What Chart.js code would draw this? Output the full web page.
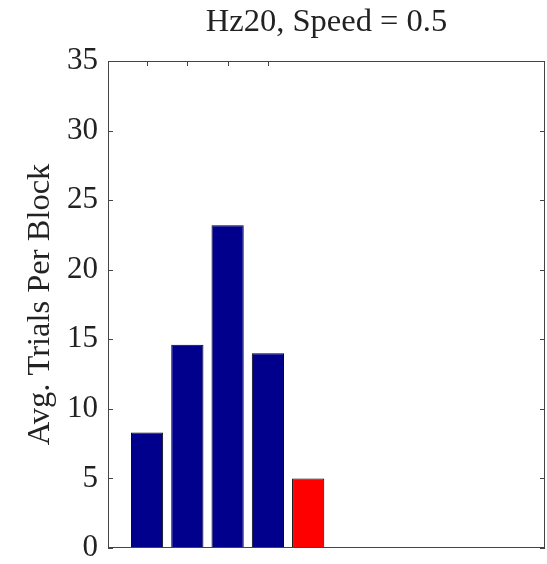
<!DOCTYPE html>
<html><head><meta charset="utf-8">
<script src="https://cdn.jsdelivr.net/npm/chart.js@4"></script>
<style>html,body{margin:0;padding:0;background:#fff}#wrap{width:547px;height:564px}
.fl{font-family:'Liberation Serif';position:absolute;left:-9999px;top:0;font-size:30px}</style>
</head><body><span class="fl">Hz20, Speed Avg. 0123456789</span><div id="wrap"><canvas id="c" width="547" height="564"></canvas></div>
<script>
const titleText = "Hz20, Speed = 0.5";
const yLabel = "Avg. Trials Per Block";
const positions = [1, 2, 3, 4, 5];
const values = [8.3, 14.6, 23.2, 14.0, 5.0];
const barColors = ["#00008C", "#00008C", "#00008C", "#00008C", "#FF0000"];
const yTicks = [0, 5, 10, 15, 20, 25, 30, 35];
const xTicks = [1, 2, 3, 4];
const xMin = 0.03, xMax = 10.88;
const serif = "'Liberation Serif', 'Times New Roman', Times, 'DejaVu Serif', serif";

const boxPlugin = {
  id: 'box',
  beforeDatasetsDraw(chart) {
    const {ctx, chartArea: a, scales: {x, y}} = chart;
    ctx.save();
    ctx.strokeStyle = '#444';
    ctx.lineWidth = 1;
    ctx.beginPath();
    yTicks.forEach(v => {
      const py = Math.round(y.getPixelForValue(v)) + 0.5;
      ctx.moveTo(a.left, py); ctx.lineTo(a.left + 5, py);
      ctx.moveTo(a.right, py); ctx.lineTo(a.right - 5, py);
    });
    xTicks.forEach(v => {
      const px = Math.round(x.getPixelForValue(v)) + 0.5;
      ctx.moveTo(px, a.top); ctx.lineTo(px, a.top + 5);
      ctx.moveTo(px, a.bottom); ctx.lineTo(px, a.bottom - 5);
    });
    ctx.stroke();
    ctx.restore();
  },
  afterDraw(chart) {
    const {ctx, chartArea: a} = chart;
    ctx.save();
    ctx.strokeStyle = '#444';
    ctx.lineWidth = 1;
    ctx.strokeRect(Math.round(a.left) + 0.5, Math.round(a.top) + 0.5,
      Math.round(a.right - a.left) - 1, Math.round(a.bottom - a.top) - 1);
    ctx.restore();
  }
};

function build() {
  new Chart(document.getElementById('c'), {
    type: 'bar',
    data: {
      datasets: [{
        data: positions.map((p, i) => ({x: p, y: values[i]})),
        backgroundColor: barColors,
        borderColor: '#000',
        borderWidth: 1,
        barPercentage: 0.8,
        categoryPercentage: 1.0
      }]
    },
    options: {
      responsive: false,
      animation: false,
      devicePixelRatio: 1,
      layout: {padding: {left: 0, right: 2, top: 0, bottom: 16}},
      plugins: {
        legend: {display: false},
        tooltip: {enabled: false},
        title: {
          display: true,
          fullSize: false,
          text: titleText,
          color: '#222',
          font: {family: serif, size: 32.5, weight: 'normal'},
          padding: {top: 3, bottom: 19}
        }
      },
      scales: {
        x: {
          type: 'linear',
          offset: false,
          min: xMin, max: xMax,
          afterFit(scale) { scale.height = 0; scale.paddingLeft = 0; scale.paddingRight = 0; },
          ticks: {display: false},
          grid: {display: false, drawTicks: false, offset: false},
          border: {display: false}
        },
        y: {
          min: 0, max: 35,
          afterFit(scale) { scale.width = 108; scale.paddingTop = 0; scale.paddingBottom = 0; },
          afterBuildTicks(scale) { scale.ticks = yTicks.map(v => ({value: v})); },
          ticks: {
            color: '#222',
            padding: 10,
            font: {family: serif, size: 31}
          },
          grid: {display: false, drawTicks: false},
          border: {display: false},
          title: {
            display: true,
            text: yLabel,
            color: '#222',
            font: {family: serif, size: 32.5},
            padding: {top: 21, bottom: 0}
          }
        }
      }
    },
    plugins: [boxPlugin]
  });
}
Promise.all([
  document.fonts.load("31px 'Liberation Serif'"),
  document.fonts.load("29px 'Liberation Serif'")
]).then(build, build);
</script>
</body></html>
